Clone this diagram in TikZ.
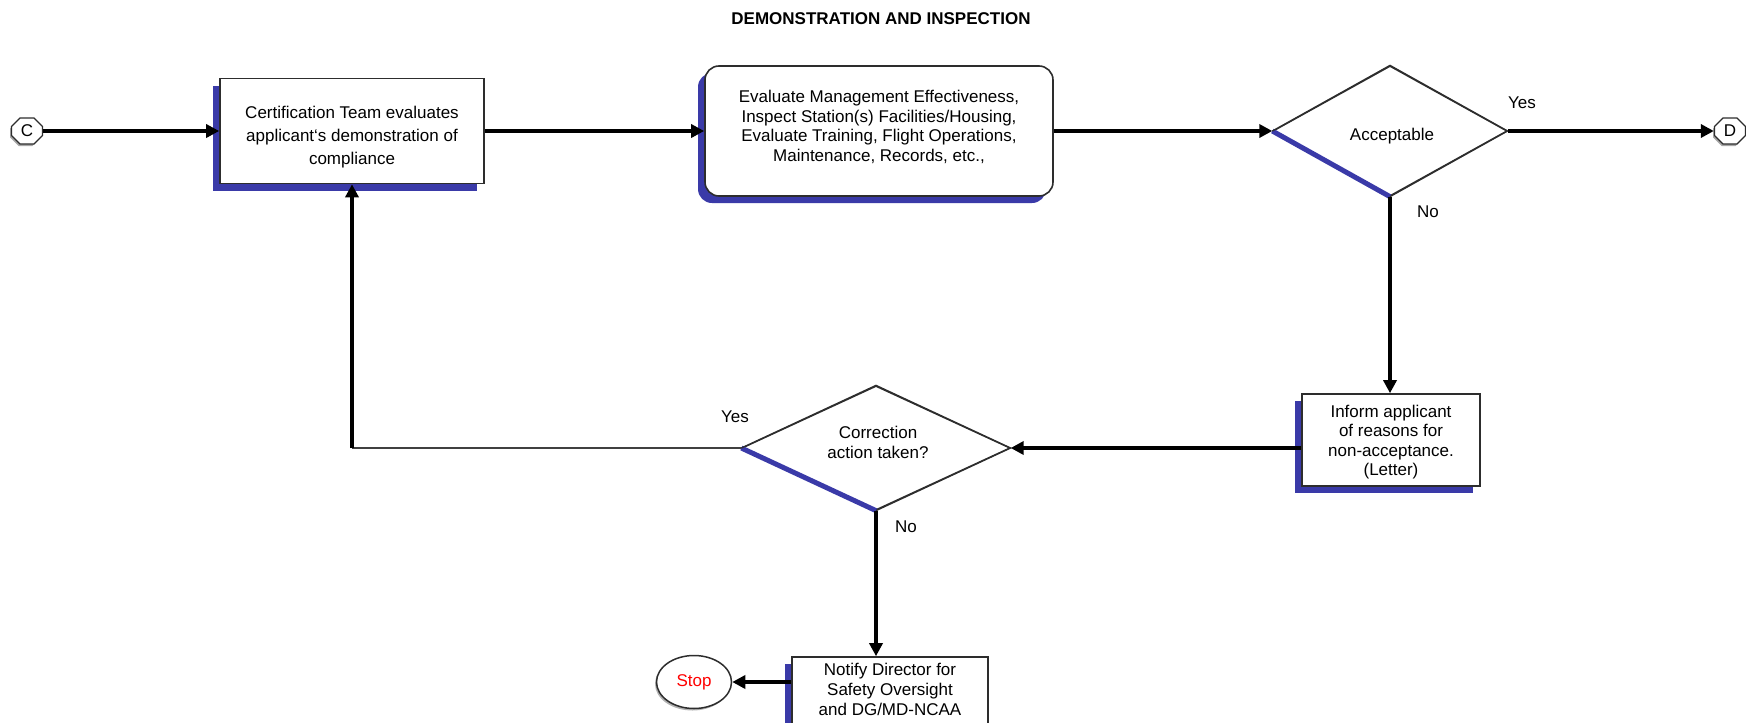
\documentclass[tikz,border=0pt]{standalone}
\usepackage{fontspec}
\setmainfont{Liberation Sans}
\usetikzlibrary{arrows.meta,shapes.geometric,shapes.misc,shadows}

\definecolor{shadowblue}{RGB}{58,58,168}
\definecolor{edgegray}{RGB}{45,45,45}

\tikzset{
  txt/.style={font=\fontsize{17}{#1}\selectfont, align=center, inner sep=0pt},
  txt/.default=23,
  procbox/.style={draw=edgegray, line width=1.6pt, fill=white, inner sep=0pt,
    drop shadow={shadow xshift=-7pt, shadow yshift=-7pt, fill=shadowblue, opacity=1}},
  roundbox/.style={procbox, rounded corners=14pt},
  decision/.style={diamond, draw=edgegray, line width=1.3pt, fill=white, inner sep=0pt},
  decshade/.style={draw=shadowblue, line width=5pt},
  decedge/.style={draw=edgegray, line width=1.3pt},
  offpage/.style={chamfered rectangle, chamfered rectangle xsep=5pt, draw=edgegray, line width=1.3pt,
    fill=white, minimum width=31pt, minimum height=26pt, inner sep=0pt,
    font=\fontsize{17}{20}\selectfont,
    drop shadow={shadow xshift=-1.5pt, shadow yshift=-2pt, fill=black, opacity=0.35}},
  terminal/.style={ellipse, draw=edgegray, line width=1.5pt, fill=white,
    minimum width=75pt, minimum height=53pt, inner sep=0pt,
    font=\fontsize{17}{20}\selectfont, text=red,
    drop shadow={shadow xshift=-1.5pt, shadow yshift=-2pt, fill=black, opacity=0.3}},
  flow/.style={line width=4pt, -{Triangle[length=13pt,width=13pt]}},
  thinflow/.style={line width=2pt, draw=black!75},
  lbl/.style={font=\fontsize{17}{20}\selectfont}
}

\begin{document}
\begin{tikzpicture}[x=1pt, y=-1pt]
\useasboundingbox (0,0) rectangle (1746,723);
\clip (0,0) rectangle (1746,723);

% title
\node[font=\fontsize{17}{20}\selectfont\bfseries] (title) at (881,19) {DEMONSTRATION AND INSPECTION};

% off-page connectors
\node[offpage] (C) at (27,131) {C};
\node[offpage] (D) at (1730,131) {D};

% process steps (frames, then their texts)
\node[procbox, minimum width=264pt, minimum height=105pt] (cert) at (352,131) {};
\node[txt=23] (certtext) at (352,137.5) {Certification Team evaluates\\applicant‘s demonstration of\\compliance};

\node[roundbox, minimum width=348pt, minimum height=130pt] (eval) at (879,131) {};
\node[txt=19.5] (evaltext) at (879,127) {Evaluate Management Effectiveness,\\Inspect Station(s) Facilities/Housing,\\Evaluate Training, Flight Operations,\\Maintenance, Records, etc.,};

\node[procbox, minimum width=178pt, minimum height=92pt] (inform) at (1391,440) {};
\node[txt=19.5] (informtext) at (1391,442) {Inform applicant\\of reasons for\\non-acceptance.\\(Letter)};

\node[procbox, minimum width=196pt, minimum height=70pt] (notify) at (890,692) {};
\node[txt=20] (notifytext) at (890,689) {Notify Director for\\Safety Oversight\\and DG/MD-NCAA};

% decisions
\node[decision, minimum width=234pt, minimum height=130pt] (acc) at (1390,131) {};
\draw[decshade] (acc.west) -- (acc.south);
\draw[decedge] (acc.west) -- (acc.north) -- (acc.east) -- (acc.south);
\node[txt] (acctext) at (1392,136) {Acceptable};

\node[decision, minimum width=268pt, minimum height=124pt] (corr) at (876,448) {};
\draw[decshade] (corr.west) -- (corr.south);
\draw[decedge] (corr.west) -- (corr.north) -- (corr.east) -- (corr.south);
\node[txt=20] (corrtext) at (878,442) {Correction\\action taken?};

% terminal
\node[terminal] (stop) at (694,682) {Stop};

% connectors
\draw[flow] (C.east) -- (cert.west);
\draw[flow] (cert.east) -- (eval.west);
\draw[flow] (eval.east) -- (acc.west);
\draw[flow] (acc.east) -- (D.west);
\draw[flow] (acc.south) -- (acc.south |- inform.north);
\draw[flow] (inform.west |- corr.east) -- (corr.east);
\draw[thinflow] (corr.west) -- (cert.south |- corr.west);
\draw[flow] (cert.south |- corr.west) -- (cert.south);
\draw[flow] (corr.south) -- (corr.south |- notify.north);
\draw[flow] (notify.west |- stop.east) -- (stop.east);

% branch labels
\node[lbl] (yes1) at (1522,103) {Yes};
\node[lbl] (no1) at (1428,212) {No};
\node[lbl] (yes2) at (735,417) {Yes};
\node[lbl] (no2) at (906,527) {No};
\end{tikzpicture}
\end{document}
